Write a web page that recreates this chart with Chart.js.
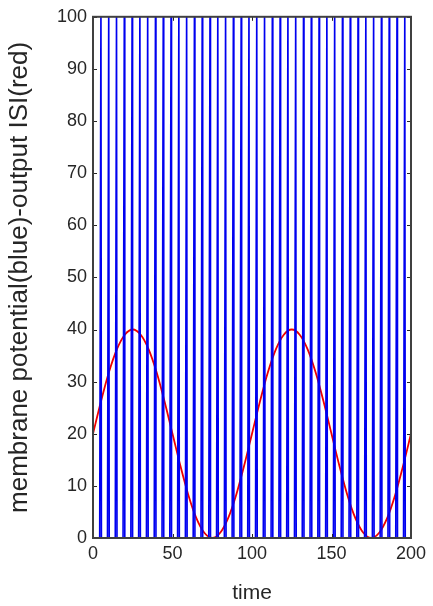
<!DOCTYPE html>
<html>
<head>
  <title>Membrane potential and ISI</title>
  <script src="https://cdn.jsdelivr.net/npm/chart.js"></script>
  <style>
    body { margin: 0; background: #fff; }
    #chart { display: block; }
  </style>
</head>
<body>
  <canvas id="chart" width="433" height="606"></canvas>
  <script>
    // spike times of the membrane potential (blue)
    const spikeTimes = [
      5.0, 9.9, 14.8, 19.7, 24.6, 29.5, 34.4, 39.3, 44.2, 49.1,
      54.0, 58.9, 63.8, 68.7, 73.6, 78.5, 83.4, 88.3, 93.2, 98.1,
      103.0, 107.9, 112.8, 117.7, 122.6, 127.5, 132.4, 137.3, 142.2, 147.1,
      152.0, 156.9, 161.8, 166.7, 171.6, 176.5, 181.4, 186.3, 191.2, 196.1
    ];
    const resetLevel = 0;
    const peakLevel = 104;

    // output ISI (red), sampled every 5 time units
    const isiTime = [
      0, 5, 10, 15, 20, 25, 30, 35, 40, 45, 50, 55, 60, 65, 70, 75, 80, 85, 90, 95,
      100, 105, 110, 115, 120, 125, 130, 135, 140, 145, 150, 155, 160, 165, 170, 175, 180, 185, 190, 195, 200
    ];
    const isiValue = [
      20, 26.2, 31.8, 36.2, 39.0, 40, 39.0, 36.2, 31.8, 26.2, 20, 13.8, 8.2, 3.8, 1.0, 0, 1.0, 3.8, 8.2, 13.8,
      20, 26.2, 31.8, 36.2, 39.0, 40, 39.0, 36.2, 31.8, 26.2, 20, 13.8, 8.2, 3.8, 1.0, 0, 1.0, 3.8, 8.2, 13.8, 20
    ];

    const xTicks = [0, 50, 100, 150, 200];
    const yTicks = [0, 10, 20, 30, 40, 50, 60, 70, 80, 90, 100];

    // each spike: fast ramp up from reset, then drop back
    const bluePoints = [{ x: 0, y: resetLevel }];
    spikeTimes.forEach(t => {
      bluePoints.push({ x: t - 0.8, y: resetLevel });
      bluePoints.push({ x: t, y: peakLevel });
      bluePoints.push({ x: t + 0.3, y: resetLevel });
    });
    bluePoints.push({ x: 200, y: resetLevel });

    const isiPoints = isiTime.map((t, i) => ({ x: t, y: isiValue[i] }));

    // matlab-like box with inward ticks
    const boxPlugin = {
      id: "box",
      afterDatasetsDraw(chart) {
        const { ctx, chartArea: a, scales } = chart;
        ctx.save();
        ctx.strokeStyle = "#262626";
        ctx.lineWidth = 1;
        ctx.beginPath();
        xTicks.forEach(v => {
          const px = Math.round(scales.x.getPixelForValue(v)) + 0.5;
          ctx.moveTo(px, a.bottom); ctx.lineTo(px, a.bottom - 4);
          ctx.moveTo(px, a.top); ctx.lineTo(px, a.top + 4);
        });
        yTicks.forEach(v => {
          const py = Math.round(scales.y.getPixelForValue(v)) + 0.5;
          ctx.moveTo(a.left, py); ctx.lineTo(a.left + 4, py);
          ctx.moveTo(a.right, py); ctx.lineTo(a.right - 4, py);
        });
        ctx.stroke();
        ctx.lineWidth = 2;
        ctx.strokeStyle = "#404040";
        ctx.strokeRect(a.left, a.top, a.right - a.left, a.bottom - a.top);
        ctx.restore();
      }
    };

    new Chart(document.getElementById("chart"), {
      type: "scatter",
      data: {
        datasets: [
          {
            label: "membrane potential",
            data: bluePoints,
            showLine: true,
            borderColor: "#0000f0",
            borderWidth: 1.6,
            pointRadius: 0,
            tension: 0
          },
          {
            label: "output ISI",
            data: isiPoints,
            showLine: true,
            borderColor: "#ee0000",
            borderWidth: 1.8,
            pointRadius: 0,
            cubicInterpolationMode: "monotone"
          }
        ]
      },
      options: {
        responsive: false,
        animation: false,
        layout: { padding: { top: 15, right: 22, left: 0, bottom: 0 } },
        plugins: { legend: { display: false }, tooltip: { enabled: false } },
        scales: {
          x: {
            type: "linear",
            min: 0,
            max: 200,
            afterBuildTicks: s => { s.ticks = xTicks.map(v => ({ value: v })); },
            afterFit: s => { s.height = 68; },
            grid: { display: false, drawTicks: false, tickLength: 0 },
            border: { display: false },
            ticks: { color: "#262626", font: { family: "Liberation Sans", size: 18 }, padding: 5, maxRotation: 0 },
            title: { display: true, text: "time", color: "#262626", font: { family: "Liberation Sans", size: 21 }, padding: { top: 10, bottom: 0 } }
          },
          y: {
            min: 0,
            max: 100,
            afterBuildTicks: s => { s.ticks = yTicks.map(v => ({ value: v })); },
            afterFit: s => { s.width = 93; },
            grid: { display: false, drawTicks: false, tickLength: 0 },
            border: { display: false },
            ticks: { color: "#262626", font: { family: "Liberation Sans", size: 18 }, padding: 6 },
            title: { display: true, text: "membrane potential(blue)-output ISI(red)", color: "#262626", font: { family: "Liberation Sans", size: 26 }, padding: { bottom: 0, top: 4 } }
          }
        }
      },
      plugins: [boxPlugin]
    });
  </script>
</body>
</html>
